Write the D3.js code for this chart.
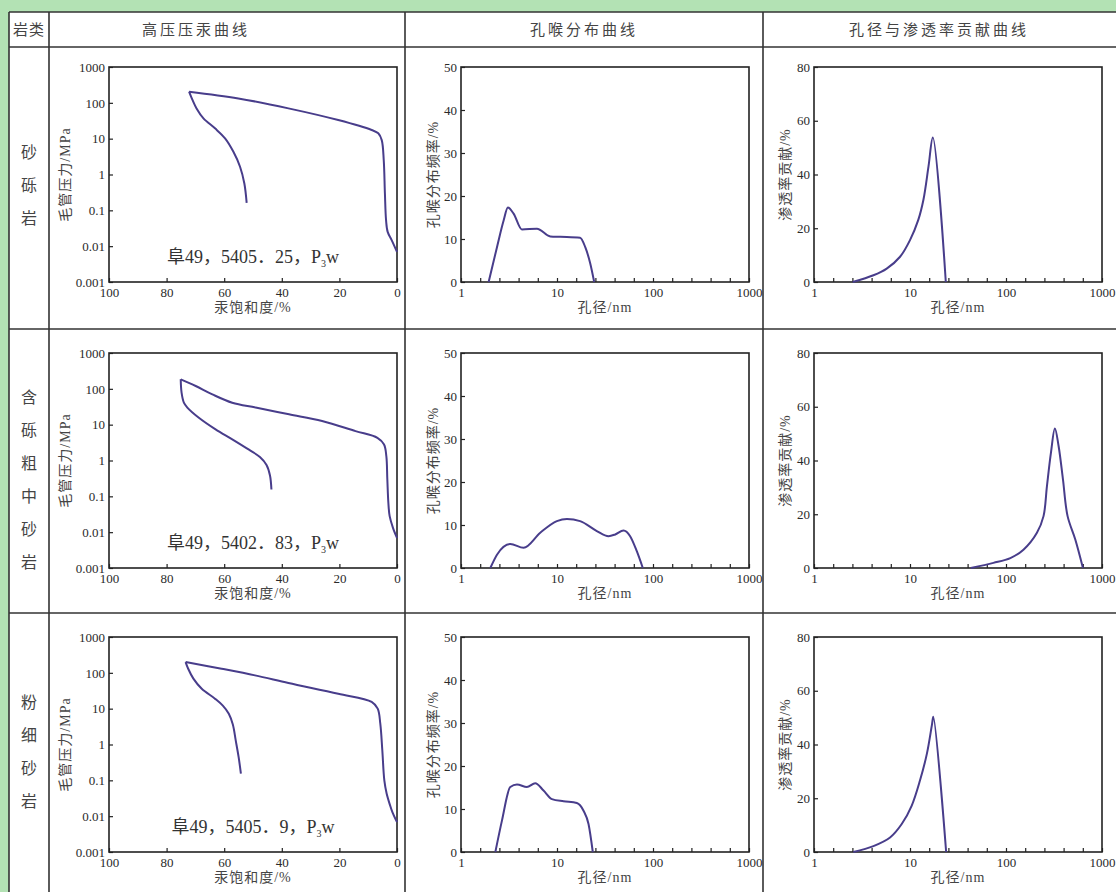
<!DOCTYPE html>
<html>
<head>
<meta charset="utf-8">
<script src="https://cdn.jsdelivr.net/npm/d3@7"></script>
<style>
  body { margin: 0; background: #b3e2b4; }
  svg { display: block; }
  .tick text { font-family: "Liberation Serif", "Noto Sans CJK SC", serif; font-size: 13px; fill: #2a2a2a; }
  .tick line { stroke: #222; stroke-width: 1.2; }
  .cn { font-family: "Liberation Serif", "Noto Sans CJK SC", serif; fill: #444; }
</style>
</head>
<body>
<svg id="fig" width="1116" height="892"></svg>
<script>
// categories / labels
const rockTypes = ['砂砾岩', '含砾粗中砂岩', '粉细砂岩'];
const headerTitles = ['岩类', '高压压汞曲线', '孔喉分布曲线', '孔径与渗透率贡献曲线'];
const sampleDepths = ['5405．25', '5402．83', '5405．9'];

// tick labels
const hgPressureTicks = [0.001, 0.01, 0.1, 1, 10, 100, 1000];
const hgSatTicks = [100, 80, 60, 40, 20, 0];
const sizeTicks = [1, 10, 100, 1000];
const poreFreqTicks = [0, 10, 20, 30, 40, 50];
const permTicks = [0, 20, 40, 60, 80];

// mercury injection / withdrawal: [Hg saturation %, capillary pressure MPa]
const hgInj1 = [[0, 0.0069], [1.85, 0.0148], [3.24, 0.025], [3.8, 0.053], [4.2, 0.30], [4.6, 2.5], [5.3, 9.1], [6.5, 14.1], [8.8, 17.4], [20.4, 33], [37.7, 70], [55.1, 133], [72.2, 205]];
const hgWd1 = [[72.2, 205], [71.1, 125], [69.6, 70], [67.2, 37], [63.2, 19.4], [59.7, 10.2], [56.8, 4.3], [54.5, 1.65], [53.0, 0.56], [52.2, 0.162]];
const hgInj2 = [[0, 0.0069], [1.4, 0.0132], [2.55, 0.028], [3.0, 0.066], [3.36, 0.30], [3.7, 1.32], [4.5, 2.8], [6.8, 4.3], [14.4, 6.6], [26, 12.6], [37.5, 19.4], [49.1, 30], [57.2, 41], [64.1, 70], [69.9, 120], [75.1, 184]];
const hgWd2 = [[75.1, 184], [74.8, 78], [74.0, 41], [72.8, 30], [68.8, 15.6], [63, 7.4], [57.2, 3.9], [51.4, 2.0], [47.6, 1.25], [45.3, 0.75], [44.1, 0.38], [43.6, 0.155]];
const hgInj3 = [[0, 0.0068], [1.6, 0.013], [2.4, 0.020], [3.6, 0.043], [4.4, 0.1], [5.1, 0.69], [5.8, 3.8], [6.7, 10], [8.8, 15.5], [20.4, 26], [37.7, 52], [49.3, 85], [60.9, 130], [73.4, 200]];
const hgWd3 = [[73.4, 200], [72.5, 130], [70.7, 69], [67.8, 36], [63.2, 19], [60.4, 12], [58.4, 7.2], [57.0, 3.6], [56.0, 1.3], [55.0, 0.45], [54.2, 0.155]];

// pore throat distribution: [size nm, frequency %]
const pore1 = [[1.94, 0], [2.37, 8.1], [2.78, 14.3], [3.08, 17.3], [3.53, 15.9], [4.31, 12.2], [6.18, 12.4], [8.51, 10.6], [10.8, 10.5], [17.4, 10.3], [19.7, 8.1], [22.2, 4.3], [24.4, 0]];
const pore2 = [[2.02, 0], [2.37, 3.1], [3.26, 5.6], [4.49, 4.7], [6.69, 8.2], [9.97, 10.9], [12.7, 11.4], [17.4, 10.9], [26, 8.6], [34.4, 7.4], [40.4, 7.8], [49.3, 8.7], [57.8, 7.4], [67.8, 3.9], [78.3, 0]];
const pore3 = [[2.28, 0], [2.67, 7.3], [3.26, 15.1], [3.83, 15.7], [4.86, 15.1], [5.93, 16.0], [7.24, 14.3], [8.85, 12.3], [11.7, 11.8], [16.1, 11.4], [18.9, 9.6], [21.3, 6.5], [23.6, 0]];

// permeability contribution: [size nm, contribution %]
const perm1 = [[2.53, 0], [4.16, 2.5], [5.72, 5], [7.88, 9.4], [10.0, 15.6], [12.2, 23.1], [13.8, 30.6], [15.6, 43.1], [17.3, 53.8], [23.6, 0]];
const perm2 = [[43, 0], [74, 1.9], [111, 3.7], [152, 6.8], [210, 13.1], [246, 19.3], [267, 30.5], [294, 42.9], [323, 51.9], [353, 45.4], [392, 33], [438, 19.3], [527, 10.6], [633, 0]];
const perm3 = [[2.57, 0], [4.16, 2.2], [6.2, 5.4], [8.2, 10.4], [10.4, 17.2], [12.7, 26.6], [15.0, 36.6], [16.9, 47.2], [17.5, 50.3], [23.8, 0]];

const hgSets = [[hgInj1, hgWd1], [hgInj2, hgWd2], [hgInj3, hgWd3]];
const poreSets = [pore1, pore2, pore3];
const permSets = [perm1, perm2, perm3];

const svg = d3.select('#fig');

// layout
const colX = [9, 49, 405, 763];
const rowLines = [12, 47, 329, 613];
const rowTops = [67, 353, 637];
const panelLefts = [109, 461, 814];
const plotW = 288, plotH = 215;
const curveColor = '#483d8b';

// table
svg.append('rect').attr('x', 9).attr('y', 12).attr('width', 1120).attr('height', 900).attr('fill', '#fff');
const grid = svg.append('g').attr('stroke', '#333').attr('stroke-width', 1.6);
rowLines.forEach(y => grid.append('line').attr('x1', 9).attr('x2', 1116).attr('y1', y).attr('y2', y));
colX.forEach(x => grid.append('line').attr('x1', x).attr('x2', x).attr('y1', 12).attr('y2', 892));

const headerX = [29, 196, 584, 939];
headerTitles.forEach((t, i) => {
  svg.append('text').attr('class', 'cn')
    .attr('x', headerX[i]).attr('y', 30)
    .attr('text-anchor', 'middle').attr('dominant-baseline', 'central')
    .attr('font-size', 15).attr('letter-spacing', i === 0 ? 1 : 3)
    .text(t);
});

const rowCenters = [185, 480, 752];
rockTypes.forEach((name, r) => {
  const chars = Array.from(name);
  chars.forEach((c, k) => {
    svg.append('text').attr('class', 'cn')
      .attr('x', 29)
      .attr('y', rowCenters[r] + (k - (chars.length - 1) / 2) * 33)
      .attr('text-anchor', 'middle').attr('dominant-baseline', 'central')
      .attr('font-size', 16)
      .text(c);
  });
});

function frame(g) {
  g.append('rect').attr('width', plotW).attr('height', plotH)
    .attr('fill', 'none').attr('stroke', '#222').attr('stroke-width', 1.6);
}

function axisTitles(g, xTitle, yTitle, yOff) {
  g.append('text').attr('class', 'cn')
    .attr('x', plotW / 2).attr('y', plotH + 30)
    .attr('text-anchor', 'middle').attr('font-size', 14).attr('letter-spacing', 1)
    .text(xTitle);
  g.append('text').attr('class', 'cn')
    .attr('transform', `translate(${-yOff},${plotH / 2}) rotate(-90)`)
    .attr('text-anchor', 'middle').attr('font-size', 14).attr('letter-spacing', 1)
    .attr('dy', '0.35em')
    .text(yTitle);
}

const minorSizeTicks = d3.range(1, 15).filter(k => k % 5 !== 0).map(k => Math.pow(10, k / 5));

rowTops.forEach((top, r) => {
  // high pressure mercury panel
  const g1 = svg.append('g').attr('transform', `translate(${panelLefts[0]},${top})`);
  const xHg = d3.scaleLinear().domain([100, 0]).range([0, plotW]);
  const yHg = d3.scaleLog().domain([0.001, 1000]).range([plotH, 0]);

  g1.append('g').attr('transform', `translate(0,${plotH})`)
    .call(d3.axisBottom(xHg).tickValues(hgSatTicks).tickSizeInner(-4).tickSizeOuter(0).tickPadding(6).tickFormat(d3.format('d')))
    .call(a => a.select('.domain').remove());
  g1.append('g')
    .call(d3.axisLeft(yHg).tickValues(hgPressureTicks).tickSizeInner(-4).tickSizeOuter(0).tickPadding(4).tickFormat(d => String(d)))
    .call(a => a.select('.domain').remove());
  frame(g1);
  axisTitles(g1, '汞饱和度/%', '毛管压力/MPa', 44);

  const hgLine = d3.line().x(d => xHg(d[0])).y(d => yHg(d[1])).curve(d3.curveCatmullRom.alpha(0.5));
  hgSets[r].forEach(s => {
    g1.append('path').attr('d', hgLine(s))
      .attr('fill', 'none').attr('stroke', curveColor).attr('stroke-width', 2);
  });

  const lbl = g1.append('text')
    .attr('x', plotW / 2).attr('y', 196)
    .attr('text-anchor', 'middle')
    .attr('font-family', '"Liberation Serif", "Noto Sans CJK SC", serif')
    .attr('font-size', 18).attr('fill', '#333');
  lbl.append('tspan').text('阜49，' + sampleDepths[r] + '，P');
  lbl.append('tspan').attr('font-size', 10).attr('dy', 4).text('3');
  lbl.append('tspan').attr('dy', -4).text('w');

  // pore throat distribution & permeability contribution panels
  [[poreSets[r], poreFreqTicks, 50, '孔喉分布频率/%', 28, d3.curveMonotoneX],
   [permSets[r], permTicks, 80, '渗透率贡献/%', 29, d3.curveCatmullRom.alpha(0.5)]].forEach((cfg, i) => {
    const [series, yTicks, yMax, yTitle, yOff, curve] = cfg;
    const g = svg.append('g').attr('transform', `translate(${panelLefts[i + 1]},${top})`);
    const x = d3.scaleLog().domain([1, 1000]).range([0, plotW]);
    const y = d3.scaleLinear().domain([0, yMax]).range([plotH, 0]);

    g.append('g').attr('transform', `translate(0,${plotH})`)
      .call(d3.axisBottom(x).tickValues(sizeTicks).tickSizeInner(-4).tickSizeOuter(0).tickPadding(6).tickFormat(d3.format('d')))
      .call(a => a.select('.domain').remove());
    g.append('g').attr('transform', `translate(0,${plotH})`)
      .call(d3.axisBottom(x).tickValues(minorSizeTicks).tickSizeInner(-4).tickSizeOuter(0).tickFormat(''))
      .call(a => a.select('.domain').remove());
    g.append('g')
      .call(d3.axisLeft(y).tickValues(yTicks).tickSizeInner(-4).tickSizeOuter(0).tickPadding(4).tickFormat(d3.format('d')))
      .call(a => a.select('.domain').remove());
    frame(g);
    axisTitles(g, '孔径/nm', yTitle, yOff);

    const line = d3.line().x(d => x(d[0])).y(d => y(d[1])).curve(curve);
    g.append('path').attr('d', line(series))
      .attr('fill', 'none').attr('stroke', curveColor).attr('stroke-width', 2);
  });
});
</script>
</body>
</html>
